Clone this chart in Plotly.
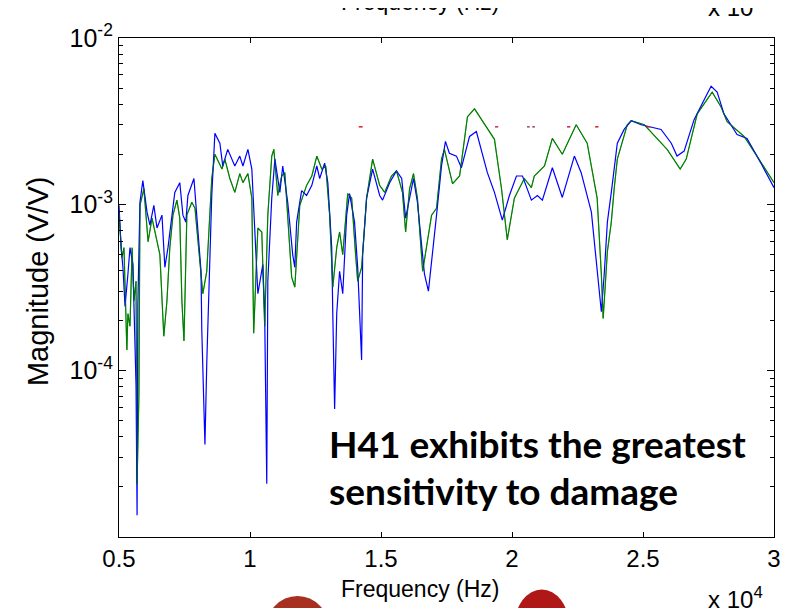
import plotly.graph_objects as go

# ---- data ----
blue_freq = [5000, 5080, 5150, 5230, 5340, 5420, 5530, 5650, 5690, 5720, 5800, 5910, 6070, 6180, 6330, 6450,
             6640, 6750, 6870, 7130, 7320, 7440, 7550, 7630, 7860, 7970, 8130, 8160, 8280, 8350, 8540, 8660,
             8850, 8960, 9150, 9420, 9610, 9730, 9920, 10070, 10180, 10300, 10490, 10560, 10640, 10680, 10830,
             10950, 11140, 11250, 11440, 11520, 11630, 11710, 11780, 11970, 12160, 12360, 12550, 12660, 12850,
             12970, 13120, 13160, 13230, 13310, 13420, 13540, 13690, 13800, 13990, 14110, 14260, 14300, 14450,
             14680, 14950, 15060, 15330, 15590, 15790, 15940, 16090, 16240, 16390, 16550, 16660, 16810, 16970,
             17120, 17310, 17460, 17610, 17880, 18070, 18380, 18640, 19060, 19330, 19630, 19900, 20170, 20400,
             20740, 20970, 21160, 21540, 21920, 22380, 22640, 23030, 23330, 23410, 23520, 23640, 23790, 24020,
             24280, 24550, 24930, 25690, 26080, 26300, 26570, 26950, 27330, 27600, 27830, 28090, 28590, 28970,
             29500, 30000]
blue_mag = [9.86e-4, 5.49e-4, 4.18e-4, 2.43e-4, 3.80e-4, 5.49e-4, 4.35e-4, 8.15e-5, 1.35e-5, 2.52e-4, 1.03e-3,
            1.39e-3, 8.97e-4, 7.51e-4, 9.86e-4, 7.21e-4, 8.61e-4, 4.18e-4, 5.49e-4, 1.18e-3, 1.35e-3, 8.61e-4,
            7.82e-4, 1.13e-3, 1.43e-3, 8.61e-4, 3.96e-4, 1.75e-4, 3.60e-5, 1.11e-4, 1.13e-3, 2.67e-3, 2.33e-3,
            1.70e-3, 2.14e-3, 1.70e-3, 1.95e-3, 1.70e-3, 2.14e-3, 1.63e-3, 6.56e-4, 2.90e-4, 4.35e-4, 2.20e-4,
            2.09e-5, 3.45e-4, 1.09e-3, 1.87e-3, 1.18e-3, 1.70e-3, 1.03e-3, 7.21e-4, 4.99e-4, 4.18e-4, 7.82e-4,
            1.21e-3, 1.13e-3, 1.30e-3, 1.70e-3, 1.43e-3, 1.77e-3, 1.35e-3, 5.49e-4, 2.20e-4, 5.88e-5, 2.20e-4,
            3.96e-4, 2.90e-4, 8.61e-4, 1.16e-3, 7.82e-4, 4.18e-4, 1.16e-4, 4.99e-4, 1.09e-3, 1.63e-3, 1.13e-3,
            1.06e-3, 1.35e-3, 1.59e-3, 1.43e-3, 8.26e-4, 1.09e-3, 1.43e-3, 1.03e-3, 5.49e-4, 3.80e-4, 3.01e-4,
            4.99e-4, 8.61e-4, 1.70e-3, 2.39e-3, 2.03e-3, 1.95e-3, 1.66e-3, 2.56e-3, 2.74e-3, 1.55e-3, 1.18e-3,
            8.04e-4, 1.13e-3, 1.48e-3, 1.48e-3, 1.06e-3, 1.13e-3, 1.06e-3, 1.66e-3, 1.10e-3, 1.95e-3, 1.55e-3,
            8.97e-4, 2.90e-4, 2.26e-4, 3.80e-4, 7.82e-4, 1.18e-3, 2.33e-3, 2.82e-3, 3.18e-3, 3.01e-3, 2.82e-3,
            2.33e-3, 1.95e-3, 2.09e-3, 3.23e-3, 4.24e-3, 5.13e-3, 4.73e-3, 3.50e-3, 2.63e-3, 2.49e-3, 1.77e-3,
            1.26e-3]

green_freq = [5000, 5040, 5110, 5190, 5300, 5340, 5420, 5500, 5570, 5650, 5690, 5760, 5800, 5950, 6110, 6260,
              6450, 6560, 6710, 6830, 6940, 7060, 7210, 7320, 7400, 7480, 7590, 7780, 7900, 8010, 8200, 8350,
              8540, 8660, 8930, 9040, 9230, 9420, 9610, 9730, 9920, 10070, 10140, 10300, 10450, 10560, 10680,
              10830, 10910, 11060, 11210, 11330, 11440, 11590, 11710, 11780, 11900, 12160, 12360, 12550, 12740,
              12890, 13040, 13160, 13310, 13420, 13540, 13730, 13880, 14030, 14110, 14260, 14450, 14680, 14950,
              15140, 15400, 15590, 15820, 15940, 16090, 16240, 16390, 16590, 16740, 16930, 17120, 17310, 17420,
              17730, 18000, 18300, 18570, 19330, 19600, 19820, 20090, 20470, 20740, 20850, 21240, 21540, 21920,
              22450, 22870, 23250, 23410, 23480, 23640, 23790, 23900, 24020, 24400, 24550, 25050, 25920, 26270,
              26420, 26650, 27070, 27640, 27980, 28210, 28860, 29350, 30000]
green_mag = [8.97e-4, 7.21e-4, 4.79e-4, 5.49e-4, 1.33e-4, 2.20e-4, 1.85e-4, 5.49e-4, 2.63e-4, 3.45e-4, 2.09e-5,
             7.11e-5, 9.86e-4, 1.24e-3, 5.96e-4, 8.26e-4, 5.96e-4, 4.99e-4, 1.61e-4, 2.63e-4, 5.49e-4, 8.61e-4,
             1.06e-3, 8.26e-4, 2.63e-4, 1.51e-4, 8.61e-4, 1.03e-3, 9.47e-4, 5.96e-4, 2.90e-4, 3.96e-4, 1.43e-3,
             2.00e-3, 1.63e-3, 1.87e-3, 1.43e-3, 1.18e-3, 1.53e-3, 1.35e-3, 1.53e-3, 1.09e-3, 1.68e-4, 7.21e-4,
             6.82e-4, 1.85e-4, 8.61e-4, 1.95e-3, 2.14e-3, 1.13e-3, 1.48e-3, 1.55e-3, 8.61e-4, 3.65e-4, 3.18e-4,
             4.99e-4, 9.86e-4, 1.30e-3, 1.48e-3, 1.95e-3, 1.63e-3, 1.70e-3, 8.61e-4, 3.18e-4, 5.49e-4, 6.82e-4,
             4.99e-4, 1.16e-3, 1.09e-3, 4.99e-4, 3.45e-4, 4.18e-4, 1.09e-3, 1.87e-3, 1.30e-3, 1.18e-3, 1.48e-3,
             1.59e-3, 1.18e-3, 6.82e-4, 1.24e-3, 1.53e-3, 1.09e-3, 3.96e-4, 5.49e-4, 8.61e-4, 9.47e-4, 1.87e-3,
             2.14e-3, 1.33e-3, 1.48e-3, 3.36e-3, 3.75e-3, 2.46e-3, 1.24e-3, 6.12e-4, 1.09e-3, 1.43e-3, 1.26e-3,
             1.48e-3, 1.70e-3, 2.49e-3, 2.00e-3, 3.01e-3, 2.33e-3, 1.09e-3, 3.80e-4, 2.06e-4, 5.20e-4, 7.82e-4,
             1.24e-3, 1.87e-3, 3.01e-3, 3.18e-3, 3.01e-3, 2.14e-3, 1.77e-3, 1.63e-3, 1.87e-3, 3.50e-3, 4.73e-3,
             3.85e-3, 3.14e-3, 2.56e-3, 1.95e-3, 1.35e-3]

x_tick_vals = [5000, 10000, 15000, 20000, 25000, 30000]
x_tick_text = ["0.5", "1", "1.5", "2", "2.5", "3"]
y_tick_vals = [1e-4, 1e-3, 1e-2]
y_tick_text = ["10<sup>-4</sup>", "10<sup>-3</sup>", "10<sup>-2</sup>"]
y_minor_vals = [m * d for d in (1e-5, 1e-4, 1e-3) for m in range(2, 10)]

FONT = "Liberation Sans, Arial, Helvetica, sans-serif"

fig = go.Figure()
fig.add_trace(go.Scatter(x=green_freq, y=green_mag, mode="lines",
                         line=dict(color="#008000", width=1.2), showlegend=False))
fig.add_trace(go.Scatter(x=blue_freq, y=blue_mag, mode="lines",
                         line=dict(color="#0000ff", width=1.2), showlegend=False))
fig.add_trace(go.Scatter(x=green_freq, y=green_mag, mode="lines",
                         line=dict(color="rgba(0,128,0,0.55)", width=1.0), showlegend=False))

# page has an 8px body margin: figure is 785x600 placed at (8,8)
fig.update_layout(
    width=785, height=600,
    margin=dict(l=111, r=18, t=22, b=71),
    paper_bgcolor="white", plot_bgcolor="white",
    font=dict(family=FONT, color="black", size=24),
    xaxis=dict(range=[5000, 30000], tickmode="array", tickvals=x_tick_vals, ticktext=x_tick_text,
               showgrid=False, zeroline=False, showline=True, linecolor="black", linewidth=1.2,
               mirror="ticks", ticks="inside", ticklen=5, tickcolor="black", tickwidth=1,
               tickfont=dict(family=FONT, size=24, color="black")),
    yaxis=dict(type="log", range=[-5, -2], tickmode="array", tickvals=y_tick_vals, ticktext=y_tick_text,
               showgrid=False, zeroline=False, showline=True, linecolor="black", linewidth=1.2,
               mirror="ticks", ticks="inside", ticklen=7, tickcolor="black", tickwidth=1,
               tickfont=dict(family=FONT, size=25, color="black"),
               minor=dict(tickmode="array", tickvals=y_minor_vals, ticks="inside", ticklen=4,
                          tickcolor="black", tickwidth=1, showgrid=False)),
)

ann = []
ann.append(dict(text="Magnitude (V/V)", x=-0.1235, y=0.513, xref="paper", yref="paper",
                textangle=-90, showarrow=False, font=dict(family=FONT, size=29),
                xanchor="center", yanchor="middle"))
ann.append(dict(text="Frequency (Hz)", x=0.459, y=-0.1045, xref="paper", yref="paper",
                showarrow=False, font=dict(family=FONT, size=23), xanchor="center", yanchor="middle"))
ann.append(dict(text="x 10<sup>4</sup>", x=0.896, y=-0.122, xref="paper", yref="paper",
                showarrow=False, font=dict(family=FONT, size=24), xanchor="left", yanchor="middle"))
# remnants of the chart above (cut off at the top edge)
ann.append(dict(text="Frequency (Hz)", x=0.459, y=1.072, xref="paper", yref="paper",
                showarrow=False, font=dict(family=FONT, size=23), xanchor="center", yanchor="middle"))
ann.append(dict(text="x 10<sup>4</sup>", x=0.896, y=1.064, xref="paper", yref="paper",
                showarrow=False, font=dict(family=FONT, size=24), xanchor="left", yanchor="middle"))
# callout text
ann.append(dict(text="<b>H41 exhibits the greatest</b>", x=0.318, y=0.187, xref="paper", yref="paper",
                showarrow=False, font=dict(family="Lato, Open Sans, sans-serif", size=37),
                xanchor="left", yanchor="middle"))
ann.append(dict(text="<b>sensitivity to damage</b>", x=0.318, y=0.094, xref="paper", yref="paper",
                showarrow=False, font=dict(family="Lato, Open Sans, sans-serif", size=37),
                xanchor="left", yanchor="middle"))
fig.update_layout(annotations=ann)

# fragments of pictures cut off at the bottom edge
fig.add_shape(type="circle", xref="paper", yref="paper", x0=0.604, x1=0.687, y0=-0.25, y1=-0.105,
              fillcolor="#b01818", line=dict(width=0), layer="above")
fig.add_shape(type="circle", xref="paper", yref="paper", x0=0.223, x1=0.322, y0=-0.26, y1=-0.118,
              fillcolor="#a83020", line=dict(width=0), layer="above")
# tiny stray red dashes seen across the plot near the top
for xa, xb, col in [(0.366, 0.372, "#e02020"), (0.574, 0.579, "#c03050"), (0.623, 0.627, "#a04060"),
                    (0.631, 0.635, "#a04060"), (0.684, 0.689, "#c02060"), (0.727, 0.732, "#d02020"),
                    (0.806, 0.811, "#d02020")]:
    fig.add_shape(type="line", xref="paper", yref="paper", x0=xa, x1=xb, y0=0.822, y1=0.822,
                  line=dict(color=col, width=1.5))

fig.write_html("out.html")
